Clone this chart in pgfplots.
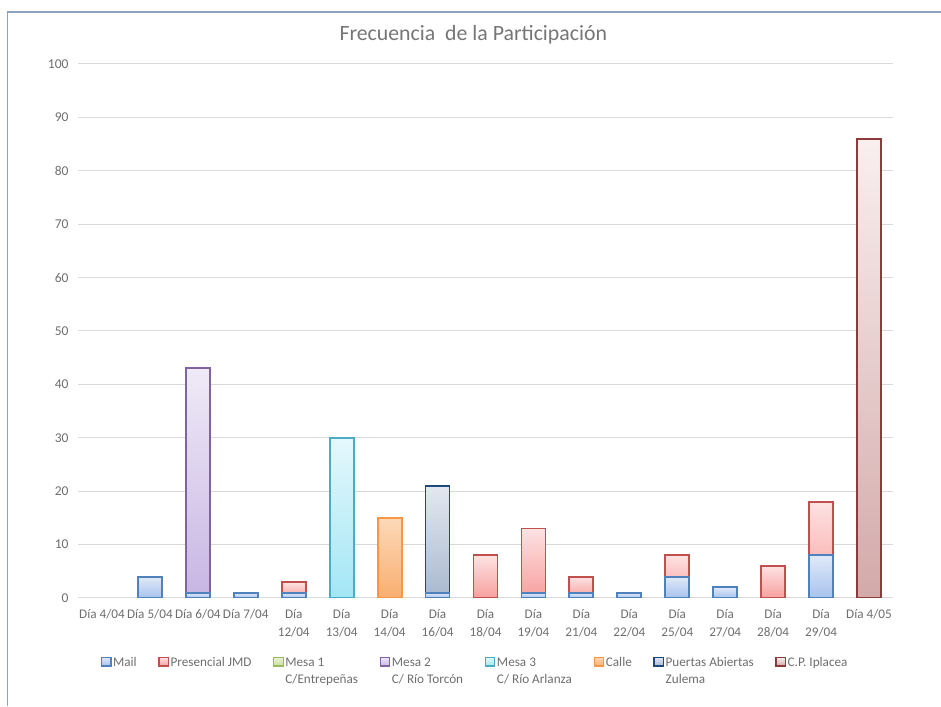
\documentclass[border=0pt]{standalone}
\usepackage{pgfplots}
\pgfplotsset{compat=1.18}
\usepackage{fontspec}
\setmainfont{Carlito}
\definecolor{frameC}{HTML}{8EA3BB}
\definecolor{gridC}{HTML}{D9D9D9}
\definecolor{tickC}{HTML}{6E6E6E}
\definecolor{titleC}{HTML}{767676}
\definecolor{mailE}{HTML}{4F81BD}\definecolor{mailT}{HTML}{E0E9F8}\definecolor{mailB}{HTML}{A7C2EE}
\definecolor{presE}{HTML}{C0504D}\definecolor{presT}{HTML}{FDE2E2}\definecolor{presB}{HTML}{F7A09E}
\definecolor{m1E}{HTML}{9BBB59}\definecolor{m1T}{HTML}{EAF2DA}\definecolor{m1B}{HTML}{C9DDA0}
\definecolor{m2E}{HTML}{8064A2}\definecolor{m2T}{HTML}{EFEAF7}\definecolor{m2B}{HTML}{C7B5E3}
\definecolor{m3E}{HTML}{4BACC6}\definecolor{m3T}{HTML}{E4F8FC}\definecolor{m3B}{HTML}{A3E6F5}
\definecolor{caE}{HTML}{F79646}\definecolor{caT}{HTML}{FCD9B8}\definecolor{caB}{HTML}{F9AE70}
\definecolor{puE}{HTML}{1F497D}\definecolor{puT}{HTML}{E3E8F0}\definecolor{puB}{HTML}{A9B8CF}
\definecolor{cpE}{HTML}{8C3B3A}\definecolor{cpT}{HTML}{F9EFEF}\definecolor{cpB}{HTML}{D3A9A9}
\tikzset{
  mail/.style={draw=mailE, top color=mailT, bottom color=mailB},
  pres/.style={draw=presE, top color=presT, bottom color=presB},
  mesaA/.style={draw=m1E, top color=m1T, bottom color=m1B},
  mesaB/.style={draw=m2E, top color=m2T, bottom color=m2B},
  mesaC/.style={draw=m3E, top color=m3T, bottom color=m3B},
  calle/.style={draw=caE, top color=caT, bottom color=caB},
  puer/.style={draw=puE, top color=puT, bottom color=puB},
  cpip/.style={draw=cpE, top color=cpT, bottom color=cpB},
}
\begin{document}
\begin{tikzpicture}
\path[use as bounding box] (0,0) rectangle (941pt,706pt);
\draw[frameC, line width=1.3pt] (7.5pt,0) -- (7.5pt,694pt) -- (941pt,694pt);
\begin{axis}[
  at={(78pt,108pt)}, anchor=south west,
  scale only axis, width=815pt, height=534pt,
  ybar, bar width=24pt, bar shift=0pt,
  every axis plot/.append style={line width=1.8pt, forget plot},
  legend image code/.code={\draw[#1, line width=1.3pt] (0pt,0.3pt) rectangle (9.5pt,9pt);},
  xmin=-0.5, xmax=16.5, ymin=0, ymax=100,
  ytick={0,10,...,100},
  xtick={0,...,16},
  xticklabels={Día 4/04,Día 5/04,Día 6/04,Día 7/04,Día\\12/04,Día\\13/04,Día\\14/04,Día\\16/04,Día\\18/04,Día\\19/04,Día\\21/04,Día\\22/04,Día\\25/04,Día\\27/04,Día\\28/04,Día\\29/04,Día 4/05},
  xticklabel style={align=center, font=\fontsize{13.2}{17.5}\selectfont, text=tickC, yshift=-8pt},
  yticklabel style={font=\fontsize{13.5}{16}\selectfont, text=tickC, xshift=-6pt},
  /pgf/number format/assume math mode=true,
  major tick length=0pt,
  axis line style={draw=none},
  ymajorgrids, grid style={gridC, line width=1pt},
  title={Frecuencia\ \ de la Participación},
  title style={at={(axis description cs:0.485,1)}, anchor=center, yshift=23pt,
    font=\fontsize{21.8}{24}\selectfont, text=titleC},
  legend style={at={(0.487,-0.097)}, anchor=north, draw=none, fill=none,
    font=\fontsize{13.2}{17.5}\selectfont, text=tickC,
    nodes={anchor=base west, inner xsep=1.5pt},
    /tikz/every odd column/.append style={column sep=0pt},
    /tikz/every even column/.append style={column sep=20pt}},
  legend columns=-1,
]
% Presencial JMD: top of the Mail + Presencial stack (Mail drawn over its lower part)
\addplot[pres] coordinates {(4,3)};
\addplot[pres] coordinates {(8,8)};
\addplot[pres] coordinates {(9,13)};
\addplot[pres] coordinates {(10,4)};
\addplot[pres] coordinates {(12,8)};
\addplot[pres] coordinates {(14,6)};
\addplot[pres] coordinates {(15,18)};
% single-series bars
\addplot[mesaB] coordinates {(2,43)};
\addplot[mesaC] coordinates {(5,30)};
\addplot[calle] coordinates {(6,15)};
\addplot[puer] coordinates {(7,21)};
\addplot[cpip] coordinates {(16,86)};
% Mail
\addplot[mail] coordinates {(1,4)};
\addplot[mail] coordinates {(2,1)};
\addplot[mail] coordinates {(3,1)};
\addplot[mail] coordinates {(4,1)};
\addplot[mail] coordinates {(7,1)};
\addplot[mail] coordinates {(9,1)};
\addplot[mail] coordinates {(10,1)};
\addplot[mail] coordinates {(11,1)};
\addplot[mail] coordinates {(12,4)};
\addplot[mail] coordinates {(13,2)};
\addplot[mail] coordinates {(15,8)};
% legend
\addlegendimage{mail}
\addlegendentry{Mail}
\addlegendimage{pres}
\addlegendentry{Presencial JMD}
\addlegendimage{mesaA}
\addlegendentry{\begin{tabular}[t]{@{}l@{}}Mesa 1\\C/Entrepeñas\end{tabular}}
\addlegendimage{mesaB}
\addlegendentry{\begin{tabular}[t]{@{}l@{}}Mesa 2\\C/ Río Torcón\end{tabular}}
\addlegendimage{mesaC}
\addlegendentry{\begin{tabular}[t]{@{}l@{}}Mesa 3\\C/ Río Arlanza\end{tabular}}
\addlegendimage{calle}
\addlegendentry{Calle}
\addlegendimage{puer}
\addlegendentry{\begin{tabular}[t]{@{}l@{}}Puertas Abiertas\\Zulema\end{tabular}}
\addlegendimage{cpip}
\addlegendentry{C.P. Iplacea}
\end{axis}
\end{tikzpicture}
\end{document}
